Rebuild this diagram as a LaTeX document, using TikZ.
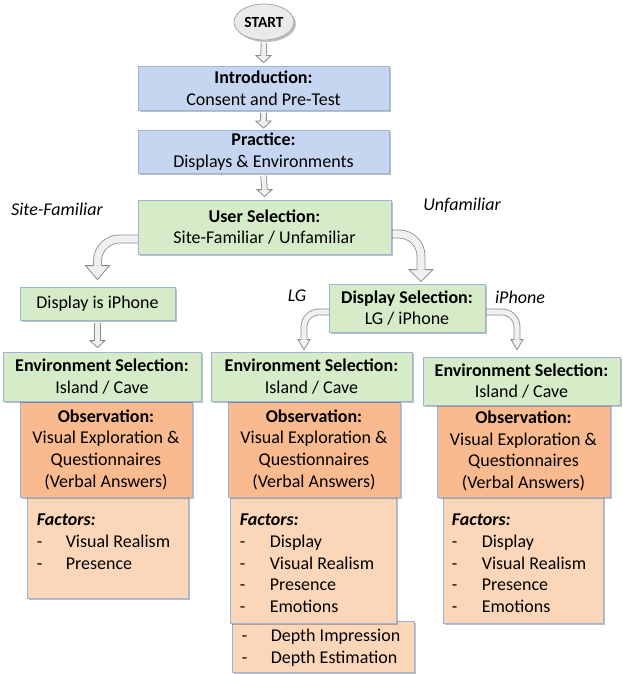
\documentclass[tikz,border=0pt]{standalone}
\usepackage{fontspec}
\setmainfont{Carlito}
\usetikzlibrary{shadows,calc,shapes.geometric}

\definecolor{bluefill}{HTML}{C6D5F0}
\definecolor{greenfill}{HTML}{D6ECC9}
\definecolor{obsfill}{HTML}{F8BA8E}
\definecolor{facfill}{HTML}{FCD6B9}
\definecolor{edgecol}{HTML}{9CB4DA}
\definecolor{arrowedge}{HTML}{8C8C8C}
\definecolor{arrowfill}{HTML}{F0F0F0}
\definecolor{startfill}{HTML}{EAEAEA}

\pgfdeclarelayer{background}
\pgfsetlayers{background,main}

\newcommand{\mainfs}{\fontsize{18}{21.7}\selectfont}
\newcommand{\startfs}{\fontsize{15.5}{18}\selectfont}

\tikzset{
  box/.style={rectangle, draw=edgecol, line width=0.8pt, inner sep=0pt, align=center, font=\mainfs,
    drop shadow={shadow xshift=2pt, shadow yshift=-2pt, opacity=0.25, fill=black}},
  bluebox/.style={box, fill=bluefill},
  greenbox/.style={box, fill=greenfill},
  obsbox/.style={box, fill=obsfill},
  facbox/.style={box, fill=facfill},
  factext/.style={inner sep=0pt, font=\mainfs},
  branchlabel/.style={inner sep=0pt, font=\mainfs\itshape},
  shaft/.style={draw=arrowedge, line width=0.8pt, double=arrowfill},
}

% head: tip coordinate, shaft half width, head half width, head length
\newcommand{\hollowhead}[4]{%
  \fill[arrowfill] let \p1=#1 in (\x1-#3,\y1+#4) -- (\x1,\y1) -- (\x1+#3,\y1+#4) -- cycle;
  \draw[arrowedge, line width=0.8pt, line join=miter] let \p1=#1 in
    (\x1-#2,\y1+#4) -- (\x1-#3,\y1+#4) -- (\x1,\y1) -- (\x1+#3,\y1+#4) -- (\x1+#2,\y1+#4);
}
% straight: from node, tip coordinate name
\newcommand{\hollowdown}[2]{%
  \draw[shaft, double distance=4.7pt] ([yshift=-2.5pt]#1.south) -- ([yshift=7pt]#2);
  \hollowhead{(#2)}{2.75pt}{7.5pt}{7pt}
}
% bent: start coord, tip coord, double distance, head half width, head length, radius, shaft half width
\newcommand{\hollowbent}[7]{%
  \draw[shaft, double distance=#3, rounded corners=#6] (#1) -| ([yshift=#5]#2);
  \hollowhead{(#2)}{#7}{#4}{#5}
}

\begin{document}
\begin{tikzpicture}[x=1pt,y=-1pt]
\begin{pgfonlayer}{background}
\fill[white] (0,0) rectangle (622,674);
\end{pgfonlayer}
\useasboundingbox (0,0) rectangle (622,674);

% ---- nodes ----
\node[ellipse, draw=gray!70, fill=startfill, line width=0.8pt, minimum width=60pt, minimum height=36pt,
      inner sep=0pt, font=\startfs\bfseries,
      drop shadow={shadow xshift=2pt, shadow yshift=-2pt, opacity=0.25, fill=black}] (start) at (264,22) {START};

\node[bluebox, minimum width=251pt, minimum height=44pt] (intro) at (263.5,88) {\textbf{Introduction:}\\Consent and Pre-Test};
\node[bluebox, minimum width=251pt, minimum height=43pt] (practice) at (263.5,151.5) {\textbf{Practice:}\\Displays \& Environments};
\node[greenbox, minimum width=253pt, minimum height=54pt] (user) at (264.5,227) {\textbf{User Selection:}\\Site-Familiar / Unfamiliar};
\node[greenbox, minimum width=155pt, minimum height=33pt] (iphone) at (97.5,303.5) {Display is iPhone};
\node[greenbox, minimum width=156pt, minimum height=48pt] (dispsel) at (407,308) {\textbf{Display Selection:}\\LG / iPhone};

% factors boxes
\node[facbox, minimum width=182pt, minimum height=51pt] (extra) at (323,646.5) {};
\node[facbox, minimum width=161pt, minimum height=101pt] (fac1) at (107.5,547.5) {};
\node[facbox, minimum width=166pt, minimum height=126pt] (fac2) at (313,560) {};
\node[facbox, minimum width=160pt, minimum height=126pt] (fac3) at (523,560) {};

% observation boxes
\node[obsbox, minimum width=172pt, minimum height=95pt] (obs1) at (106,449.5) {\textbf{Observation:}\\Visual Exploration \&\\Questionnaires\\(Verbal Answers)};
\node[obsbox, minimum width=172pt, minimum height=95pt] (obs2) at (314,449.5) {\textbf{Observation:}\\Visual Exploration \&\\Questionnaires\\(Verbal Answers)};
\node[obsbox, minimum width=173pt, minimum height=92pt] (obs3) at (523.5,451) {\textbf{Observation:}\\Visual Exploration \&\\Questionnaires\\(Verbal Answers)};

% environment selection boxes
\node[greenbox, minimum width=198pt, minimum height=49pt] (env1) at (102,376.5) {\textbf{Environment Selection:}\\Island / Cave};
\node[greenbox, minimum width=201pt, minimum height=49pt] (env2) at (311.5,376.5) {\textbf{Environment Selection:}\\Island / Cave};
\node[greenbox, minimum width=197pt, minimum height=48pt] (env3) at (521.5,381) {\textbf{Environment Selection:}\\Island / Cave};

% ---- connectors (background layer, under the boxes) ----
\begin{pgfonlayer}{background}
\coordinate (tipA) at ([yshift=3pt]intro.north);
\hollowdown{start}{tipA}
\coordinate (tipB) at ([yshift=1.5pt]practice.north);
\hollowdown{intro}{tipB}
\coordinate (tipC) at ([yshift=3pt]user.north);
\hollowdown{practice}{tipC}
\coordinate (tipD) at (iphone.south |- env1.north);
\coordinate (tipD2) at ([yshift=4pt]tipD);
\hollowdown{iphone}{tipD2}

\coordinate (s1) at ([xshift=4pt,yshift=-12pt]user.west);
\coordinate (t1) at ([yshift=7pt]iphone.north);
\hollowbent{s1}{t1}{7.2pt}{12pt}{14pt}{22pt}{4pt}
\coordinate (s2) at ([xshift=-4pt,yshift=-7pt]user.east);
\coordinate (t2) at ([xshift=14pt,yshift=2pt]dispsel.north);
\hollowbent{s2}{t2}{7.2pt}{12pt}{12pt}{22pt}{4pt}
\coordinate (s3) at ([xshift=4pt,yshift=-4pt]dispsel.west);
\coordinate (t3) at ([xshift=-7.5pt,yshift=2pt]env2.north);
\hollowbent{s3}{t3}{5.2pt}{6pt}{10pt}{15pt}{3pt}
\coordinate (s4) at ([xshift=-4pt,yshift=-4pt]dispsel.east);
\coordinate (t4) at ([xshift=-4.5pt,yshift=7pt]env3.north);
\hollowbent{s4}{t4}{5.2pt}{6pt}{10pt}{15pt}{3pt}
\end{pgfonlayer}

% factors text
\node[factext, anchor=base west] (f1t) at ([xshift=10pt,yshift=-29pt]fac1.north west)
  {\begin{tabular}[t]{@{}p{29pt}@{}l@{}}\multicolumn{2}{@{}l@{}}{\textbf{\textit{Factors:}}}\\ - & Visual Realism\\ - & Presence\end{tabular}};
\node[factext, anchor=base west] (f2t) at ([xshift=10pt,yshift=-29pt]fac2.north west)
  {\begin{tabular}[t]{@{}p{30pt}@{}l@{}}\multicolumn{2}{@{}l@{}}{\textbf{\textit{Factors:}}}\\ - & Display\\ - & Visual Realism\\ - & Presence\\ - & Emotions\end{tabular}};
\node[factext, anchor=base west] (f3t) at ([xshift=9pt,yshift=-29pt]fac3.north west)
  {\begin{tabular}[t]{@{}p{30pt}@{}l@{}}\multicolumn{2}{@{}l@{}}{\textbf{\textit{Factors:}}}\\ - & Display\\ - & Visual Realism\\ - & Presence\\ - & Emotions\end{tabular}};
\node[factext, anchor=base west] (ext) at ([xshift=10pt,yshift=-21pt]extra.north west)
  {\begin{tabular}[t]{@{}p{29pt}@{}l@{}}- & Depth Impression\\ - & Depth Estimation\end{tabular}};

% branch labels
\node[branchlabel] (lsite) at (57,209) {Site-Familiar};
\node[branchlabel] (lunf) at (462,205) {Unfamiliar};
\node[branchlabel] (llg) at (297,296) {LG};
\node[branchlabel] (liph) at (520,297) {iPhone};
\end{tikzpicture}
\end{document}
